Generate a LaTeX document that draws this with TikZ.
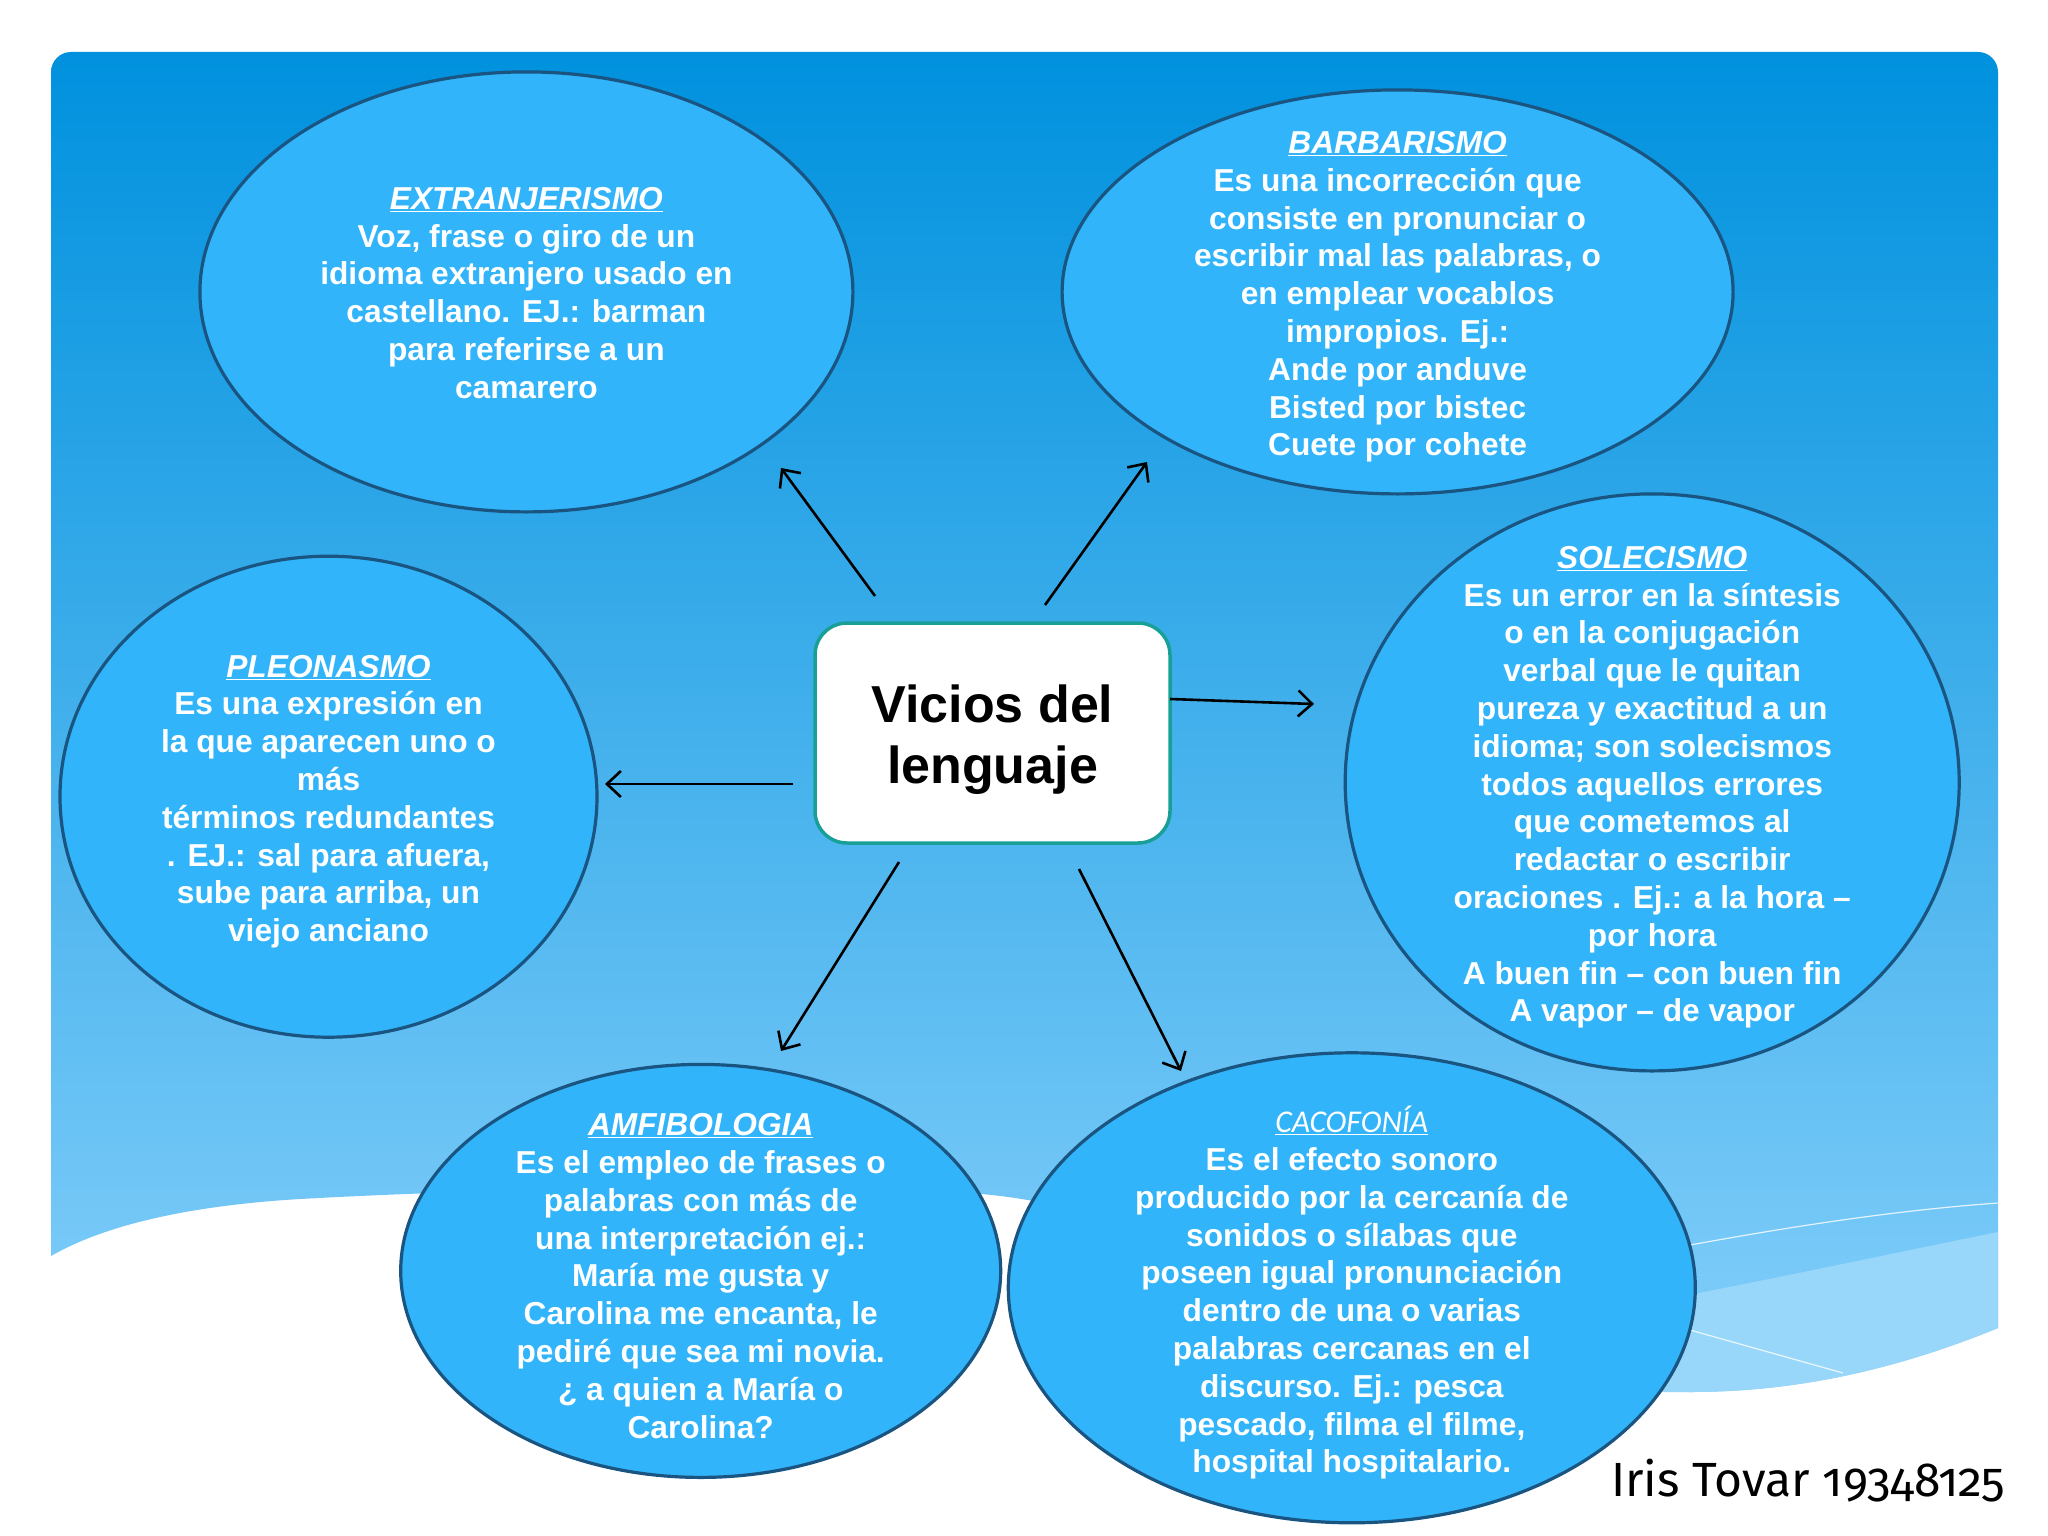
\documentclass[tikz,border=0pt]{standalone}
\usepackage{fontspec}
\setmainfont{Liberation Sans}
\newfontfamily\candara{Carlito}
\newfontfamily\sigfont[Numbers=OldStyle]{Fira Sans}
\usetikzlibrary{arrows.meta,shapes.geometric}
\definecolor{bgtop}{RGB}{0,145,222}
\definecolor{bgmid}{RGB}{78,166,229}
\definecolor{bgbot}{RGB}{132,207,250}
\definecolor{bandc}{RGB}{152,215,250}
\definecolor{ellfill}{RGB}{50,180,250}
\definecolor{ellline}{RGB}{26,84,128}
\definecolor{boxline}{RGB}{24,160,152}
\newcommand\vbody{\fontsize{31.7pt}{37.8pt}\selectfont\bfseries}
\newcommand\ttl[1]{{\bfseries\itshape\underline{#1}}}
\tikzset{
  ell/.style={ellipse, draw=ellline, line width=3.2pt, fill=ellfill, inner sep=0pt},
  etext/.style={align=center, text=white, font=\vbody, inner sep=0pt, yshift=-5pt},
  arr/.style={draw=black, line width=2.6pt, -{Straight Barb[length=14pt,width=26pt]}},
}
\begin{document}
\begin{tikzpicture}[x=1pt,y=-1pt]
\useasboundingbox (0,0) rectangle (2048,1536);
\fill[white] (0,0) rectangle (2048,1536);
% background
\shade[top color=bgtop, middle color=bgmid, bottom color=bgbot]
  (51,1256) [rounded corners=20pt] -- (51,52) -- (1998,52) -- (1998,700) [sharp corners] -- (1998,1328)
  .. controls (1900,1368) and (1800,1392) .. (1690,1392)
  .. controls (1450,1392) and (1200,1200) .. (950,1192)
  .. controls (700,1186) and (500,1188) .. (300,1199)
  .. controls (200,1205) and (110,1222) .. (51,1256) -- cycle;
\fill[bandc] (1998,1232) .. controls (1850,1262) and (1700,1295) .. (1500,1330) -- (1500,1392) -- (1690,1392)
  .. controls (1800,1392) and (1900,1368) .. (1998,1328) -- cycle;
\draw[white, opacity=0.8, line width=1.2pt] (1998,1203) .. controls (1900,1210) and (1800,1225) .. (1690,1245);
\draw[white, opacity=0.8, line width=1.2pt] (1690,1330) -- (1843,1373);
% ellipses
\node[ell, minimum width=653pt, minimum height=440pt] (e1) at (526.4,291.9) {};
\node[ell, minimum width=671pt, minimum height=404pt] (e2) at (1397.6,291.9) {};
\node[ell, minimum width=614pt, minimum height=577pt] (e3) at (1652.2,782.4) {};
\node[ell, minimum width=537pt, minimum height=481pt] (e4) at (328.5,796.7) {};
\node[ell, minimum width=600pt, minimum height=413pt] (e5) at (700.7,1270.9) {};
\node[ell, minimum width=687pt, minimum height=470pt] (e6) at (1351.8,1287.8) {};
% texts
\node[etext, yshift=4pt] (t1) at (e1.center) {\ttl{EXTRANJERISMO}\\Voz, frase o giro de un\\idioma extranjero usado en\\castellano. EJ.: barman\\para referirse a un\\camarero};
\node[etext] (t2) at (e2.center) {\ttl{BARBARISMO}\\Es una incorrección que\\consiste en pronunciar o\\escribir mal las palabras, o\\en emplear vocablos\\impropios. Ej.:\\Ande por anduve\\Bisted por bistec\\Cuete por cohete};
\node[etext] (t3) at (e3.center) {\ttl{SOLECISMO}\\Es un error en la síntesis\\o en la conjugación\\verbal que le quitan\\pureza y exactitud a un\\idioma; son solecismos\\todos aquellos errores\\que cometemos al\\redactar o escribir\\oraciones . Ej.: a la hora –\\por hora\\A buen fin – con buen fin\\A vapor – de vapor};
\node[etext] (t4) at (e4.center) {\ttl{PLEONASMO}\\Es una expresión en\\la que aparecen uno o\\más\\términos redundantes\\. EJ.: sal para afuera,\\sube para arriba, un\\viejo anciano};
\node[etext] (t5) at (e5.center) {\ttl{AMFIBOLOGIA}\\Es el empleo de frases o\\palabras con más de\\una interpretación ej.:\\María me gusta y\\Carolina me encanta, le\\pediré que sea mi novia.\\¿ a quien a María o\\Carolina?};
\node[etext] (t6) at (e6.center) {{\candara\mdseries\itshape\underline{CACOFONÍA}}\\Es el efecto sonoro\\producido por la cercanía de\\sonidos o sílabas que\\poseen igual pronunciación\\dentro de una o varias\\palabras cercanas en el\\discurso. Ej.: pesca\\pescado, filma el filme,\\hospital hospitalario.};
% center
\node[draw=boxline, line width=3.5pt, fill=white, rounded corners=32pt, minimum width=355pt, minimum height=220pt, inner sep=0pt] (c) at (992.5,733) {};
\node[align=center, inner sep=0pt, font=\fontsize{52pt}{61pt}\selectfont\bfseries] (ct) at (992.5,740) {Vicios del\\lenguaje};
% arrows
\coordinate (a1s) at (875,596);  \coordinate (a1e) at (781,468);
\coordinate (a2s) at (1045,605); \coordinate (a2e) at (1147,462);
\coordinate (a3s) at (1170,699); \coordinate (a3e) at (1314,704);
\coordinate (a4s) at (793,784);  \coordinate (a4e) at (605,784);
\coordinate (a5s) at (899,862);  \coordinate (a5e) at (781,1051);
\coordinate (a6s) at (1079,869); \coordinate (a6e) at (1181,1071);
\draw[arr] (a1s) -- (a1e);
\draw[arr] (a2s) -- (a2e);
\draw[arr] (a3s) -- (a3e);
\draw[arr] (a4s) -- (a4e);
\draw[arr] (a5s) -- (a5e);
\draw[arr] (a6s) -- (a6e);
% signature
\node[anchor=base west, inner sep=0pt, font=\sigfont\fontsize{48pt}{54pt}\selectfont] (sig) at (1611,1496) {Iris Tovar 19348125};
\end{tikzpicture}
\end{document}
